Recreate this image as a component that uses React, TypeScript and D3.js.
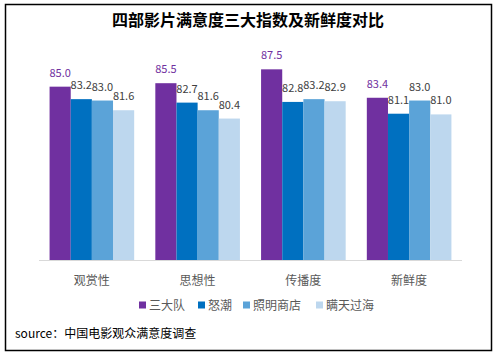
import React, { useEffect, useRef } from 'react';
import * as d3 from 'd3';

const categories = ['观赏性', '思想性', '传播度', '新鲜度'];
const seriesNames = ['三大队', '怒潮', '照明商店', '瞒天过海'];
const sanDaDui = [85.0, 85.5, 87.5, 83.4];
const nuChao = [83.2, 82.7, 82.8, 81.1];
const zhaoMing = [83.0, 81.6, 83.2, 83.0];
const manTian = [81.6, 80.4, 82.9, 81.0];
const seriesValues = [sanDaDui, nuChao, zhaoMing, manTian];
const colors = ['#7030A0', '#0070C0', '#5BA3D8', '#BDD7EE'];

const FONT = '"Noto Sans CJK SC", "Noto Sans", sans-serif';

const App = () => {
  const ref = useRef<SVGSVGElement>(null);

  useEffect(() => {
    const svg = d3.select(ref.current);
    svg.selectAll('*').remove();

    // outer frame
    svg.append('rect')
      .attr('x', 5.5).attr('y', 4.5)
      .attr('width', 486).attr('height', 346)
      .attr('fill', 'white')
      .attr('stroke', '#000').attr('stroke-width', 1.5);

    svg.append('text')
      .attr('x', 248).attr('y', 26)
      .attr('text-anchor', 'middle')
      .attr('font-family', FONT)
      .attr('font-size', 16).attr('font-weight', 'bold')
      .attr('fill', '#000')
      .text('四部影片满意度三大指数及新鲜度对比');

    const x0 = d3.scaleBand<string>()
      .domain(categories)
      .range([39, 462])
      .paddingInner(0.2)
      .paddingOuter(0.1);

    const x1 = d3.scaleBand<string>()
      .domain(seriesNames)
      .range([0, x0.bandwidth()]);

    const y = d3.scaleLinear().domain([60, 90]).range([260, 52]);

    const groups = svg.append('g')
      .selectAll('g')
      .data(categories)
      .join('g')
      .attr('transform', (d) => `translate(${x0(d)},0)`);

    groups.selectAll('rect')
      .data((_, i) => seriesNames.map((s, k) => ({ s, k, v: seriesValues[k][i] })))
      .join('rect')
      .attr('x', (d) => x1(d.s)!)
      .attr('y', (d) => y(d.v))
      .attr('width', x1.bandwidth())
      .attr('height', (d) => y(60) - y(d.v))
      .attr('fill', (d) => colors[d.k]);

    groups.selectAll('text')
      .data((_, i) => seriesNames.map((s, k) => ({ s, k, v: seriesValues[k][i] })))
      .join('text')
      .attr('x', (d) => x1(d.s)! + x1.bandwidth() / 2)
      .attr('y', (d) => y(d.v) - 10)
      .attr('text-anchor', 'middle')
      .attr('font-family', FONT)
      .attr('font-size', 11)
      .attr('fill', (d) => (d.k === 0 ? '#7030A0' : '#404040'))
      .text((d) => d.v.toFixed(1));

    // baseline
    svg.append('line')
      .attr('x1', 39).attr('x2', 462)
      .attr('y1', 260.5).attr('y2', 260.5)
      .attr('stroke', '#D9D9D9').attr('stroke-width', 1);

    svg.append('g')
      .selectAll('text')
      .data(categories)
      .join('text')
      .attr('x', (d) => x0(d)! + x0.bandwidth() / 2)
      .attr('y', 285)
      .attr('text-anchor', 'middle')
      .attr('font-family', FONT)
      .attr('font-size', 12)
      .attr('fill', '#595959')
      .text((d) => d);

    // legend
    const legendX = [139, 198, 243, 316];
    const legend = svg.append('g')
      .selectAll('g')
      .data(seriesNames)
      .join('g')
      .attr('transform', (_, i) => `translate(${legendX[i]},305)`);
    legend.append('rect')
      .attr('x', 0).attr('y', -3.5)
      .attr('width', 7).attr('height', 7)
      .attr('fill', (_, i) => colors[i]);
    legend.append('text')
      .attr('x', 10).attr('y', 4.5)
      .attr('font-family', FONT)
      .attr('font-size', 12)
      .attr('fill', '#595959')
      .text((d) => d);

    svg.append('text')
      .attr('x', 15).attr('y', 338)
      .attr('font-family', FONT)
      .attr('font-size', 12)
      .attr('fill', '#000')
      .text('source：中国电影观众满意度调查');
  }, []);

  return (
    <svg
      ref={ref}
      width={497}
      height={354}
      style={{ position: 'absolute', left: 0, top: 0, display: 'block' }}
    />
  );
};

export default App;
